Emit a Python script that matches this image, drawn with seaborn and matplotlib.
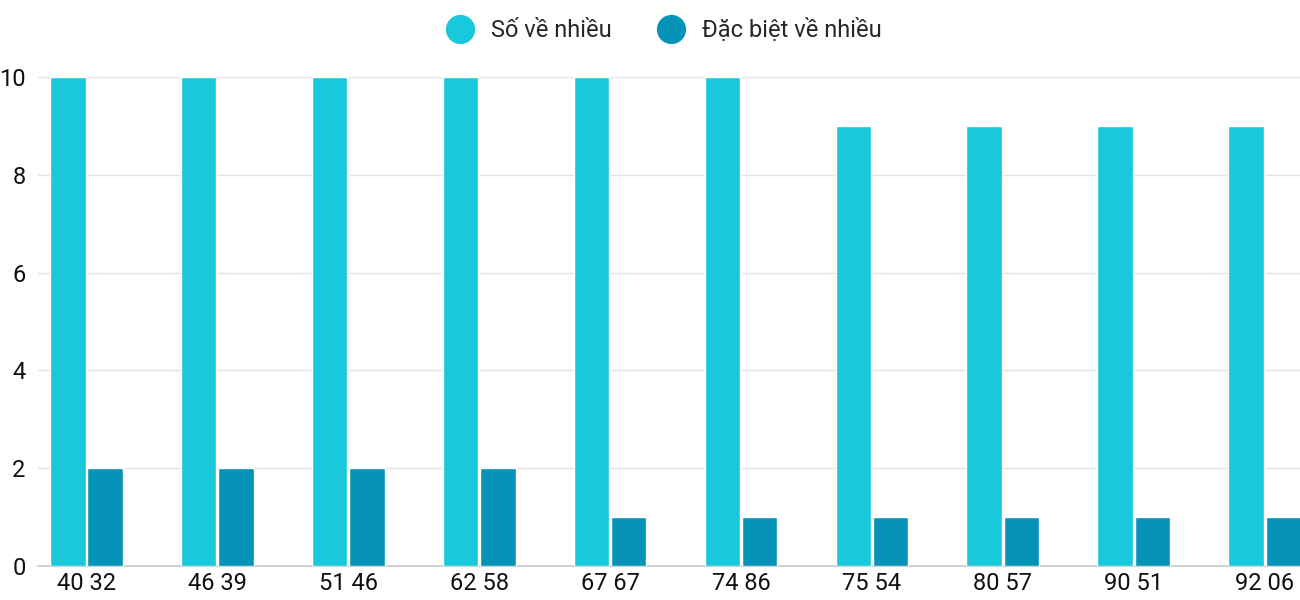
import matplotlib
matplotlib.use("Agg")
import matplotlib.pyplot as plt
import seaborn as sns
import pandas as pd
from matplotlib.lines import Line2D

categories = ["40 32", "46 39", "51 46", "62 58", "67 67", "74 86", "75 54", "80 57", "90 51", "92 06"]
so_ve_nhieu = [10, 10, 10, 10, 10, 10, 9, 9, 9, 9]
dac_biet = [2, 2, 2, 2, 1, 1, 1, 1, 1, 1]
series_names = ["Số về nhiều", "Đặc biệt về nhiều"]
colors = ["#1ac8db", "#0693b8"]

df = pd.DataFrame({
    "cat": categories * 2,
    "val": so_ve_nhieu + dac_biet,
    "series": [series_names[0]] * len(categories) + [series_names[1]] * len(categories),
})

sns.set_theme(style="white")
plt.rcParams['font.family'] = ['Roboto', 'DejaVu Sans']

fig = plt.figure(figsize=(13, 6), dpi=100)
ax = fig.add_axes([38/1300, 34/600, 1262/1300, 489/600])
sns.barplot(data=df, x="cat", y="val", hue="series", palette=colors, width=0.57,
            gap=0.05, saturation=1, ax=ax, legend=False, zorder=3)
ax.set_xlim(-0.37, 9.27)
ax.set_ylim(0, 10)
ax.set_yticks([0, 2, 4, 6, 8, 10])
ax.yaxis.grid(True, color="#e3e3e3", linewidth=1, zorder=0)
for s in ["top", "right", "left"]:
    ax.spines[s].set_visible(False)
ax.spines["bottom"].set_color("#cccccc")
ax.set_xlabel("")
ax.set_ylabel("")
ax.tick_params(axis="x", labelsize=17, colors="#111111", pad=4, length=0)
ax.tick_params(axis="y", labelsize=17, colors="#111111", pad=9, length=0)

handles = [Line2D([0], [0], marker="o", linestyle="", markersize=20,
                  markerfacecolor=c, markeredgecolor=c) for c in colors]
fig.legend(handles, series_names, loc="upper center", bbox_to_anchor=(0.507, 1.005),
           ncol=2, frameon=False, fontsize=17, handletextpad=0.3, columnspacing=1.5)

fig.savefig("out.png", dpi=100)
